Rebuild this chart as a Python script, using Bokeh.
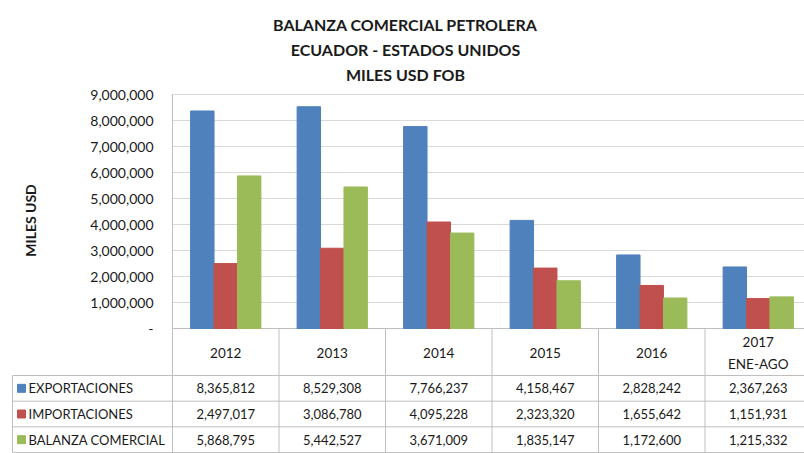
import math
from bokeh.plotting import figure
from bokeh.models import Range1d, ColumnDataSource
from bokeh.embed import file_html
from bokeh.resources import INLINE
from bokeh.core.properties import value
import numpy as np

# ---------------- data ----------------
years = ["2012", "2013", "2014", "2015", "2016", "2017"]
period_note = ["", "", "", "", "", "ENE-AGO"]
series_names = ["EXPORTACIONES", "IMPORTACIONES", "BALANZA COMERCIAL"]
exportaciones = [8365812, 8529308, 7766237, 4158467, 2828242, 2367263]
importaciones = [2497017, 3086780, 4095228, 2323320, 1655642, 1151931]
balanza = [5868795, 5442527, 3671009, 1835147, 1172600, 1215332]
colors = ["#4F81BD", "#C0504D", "#9BBB59"]
title_lines = ["BALANZA COMERCIAL PETROLERA", "ECUADOR - ESTADOS UNIDOS", "MILES USD FOB"]
y_ticks = [0, 1000000, 2000000, 3000000, 4000000, 5000000, 6000000, 7000000, 8000000, 9000000]
y_axis_title = "MILES USD"

series = [exportaciones, importaciones, balanza]

# ---------------- geometry (pixels of the canvas) ----------------
FONT = "Lato"
W, H = 804, 453
FRAME_LEFT = 172          # left edge of the plotting area (first year column)
COL_W = 106.5             # width of one year column
ZERO_PX = 328             # canvas row of value 0
TOP_PX = 94               # canvas row of the highest tick
GRID = "#D9D9D9"
LINE = "#BFBFBF"
TXT = "#1a1a1a"

def col_x(px):            # canvas column -> column units
    return (px - FRAME_LEFT) / COL_W

def row_y(py):            # canvas row -> table units (pixels from the bottom)
    return (H - 1) - py

X_START, X_END = col_x(0), col_x(W)
vmax = y_ticks[-1]
k = (ZERO_PX - TOP_PX) / vmax            # pixels per value unit
V_START = -(H - ZERO_PX) / k
V_END = vmax + TOP_PX / k

p = figure(width=W, height=H, x_range=Range1d(X_START, X_END), y_range=Range1d(-1, H - 1),
           output_backend="svg", toolbar_location=None, x_axis_location=None, y_axis_location=None,
           min_border=0, outline_line_color=None, background_fill_color="white")
p.grid.visible = False
p.extra_y_ranges = {"val": Range1d(V_START, V_END)}

xs = np.arange(len(years)) + 0.5

# ---------------- chart ----------------
# gridlines
p.segment(x0=[0] * (len(y_ticks) - 1), x1=[X_END + 1] * (len(y_ticks) - 1),
          y0=y_ticks[1:], y1=y_ticks[1:], y_range_name="val", line_color=GRID, line_width=1)
# value axis line and baseline
p.segment(x0=[0, 0], x1=[0, X_END + 1], y0=[0, 0], y1=[vmax, 0], y_range_name="val",
          line_color=LINE, line_width=1)

bar_w = 0.22
offsets = [-bar_w, 0.0, bar_w]
for name, vals, c, off in zip(series_names, series, colors, offsets):
    src = ColumnDataSource(dict(x=xs + off, top=vals))
    p.vbar(x="x", top="top", bottom=0, width=bar_w, source=src, y_range_name="val",
           fill_color=c, line_color=c)

# value tick labels
tick_labels = ["-" if v == 0 else f"{v:,}" for v in y_ticks]
p.text(x=[col_x(153)] * len(y_ticks), y=y_ticks, text=tick_labels, y_range_name="val",
       text_align="right", text_baseline="middle", text_font=value(FONT),
       text_font_size="14px", text_color=TXT)
# value axis title
p.text(x=[col_x(30)], y=[(ZERO_PX - 220) / k], text=[y_axis_title], y_range_name="val",
       angle=math.pi / 2, text_align="center", text_baseline="middle", text_font=value(FONT),
       text_font_style="bold", text_font_size="14px", text_color=TXT)

# title
p.text(x=[col_x(405)] * 3, y=[row_y(23.5), row_y(48.5), row_y(74)], text=title_lines,
       text_align="center", text_baseline="middle", text_font=value(FONT),
       text_font_style="bold", text_font_size="16px", text_color=TXT)

# ---------------- table ----------------
HEAD_BOTTOM = row_y(375)
ROW_H = (HEAD_BOTTOM - row_y(452)) / len(series_names)
row_lines = [HEAD_BOTTOM - r * ROW_H for r in range(len(series_names) + 1)]
row_centers = [HEAD_BOTTOM - (r + 0.5) * ROW_H for r in range(len(series_names))]
LBL_LEFT = col_x(12)
CHART_BOTTOM = row_y(ZERO_PX)
TABLE_BOTTOM = row_lines[-1]

# horizontal lines
p.segment(x0=[LBL_LEFT] * len(row_lines), x1=[X_END + 1] * len(row_lines),
          y0=row_lines, y1=row_lines, line_color=LINE, line_width=1)
# vertical lines
vx = list(np.arange(len(years) + 1)) + [LBL_LEFT]
vy1 = [CHART_BOTTOM] * (len(years) + 1) + [HEAD_BOTTOM]
p.segment(x0=vx, x1=vx, y0=[TABLE_BOTTOM] * len(vx), y1=vy1, line_color=LINE, line_width=1)

header = [y + ("\n" + n if n else "") for y, n in zip(years, period_note)]
p.text(x=list(xs), y=[row_y(352.5)] * len(years), text=header, text_align="center",
       text_baseline="middle", text_font=value(FONT), text_font_size="13.5px",
       text_color=TXT, text_line_height=1.4)

p.scatter(x=[col_x(21)] * 3, y=row_centers, marker="square", size=8,
          fill_color=colors, line_color=colors)
p.text(x=[col_x(28)] * 3, y=row_centers, text=series_names, text_align="left",
       text_baseline="middle", text_font=value(FONT), text_font_size="13px", text_color=TXT)

vx_, vy_, vt_ = [], [], []
for rc, vals in zip(row_centers, series):
    for xc, v in zip(xs, vals):
        vx_.append(xc); vy_.append(rc); vt_.append(f"{v:,}")
p.text(x=vx_, y=vy_, text=vt_, text_align="center", text_baseline="middle",
       text_font=value(FONT), text_font_size="13px", text_color=TXT)

open("out.html", "w").write(file_html(p, INLINE))
